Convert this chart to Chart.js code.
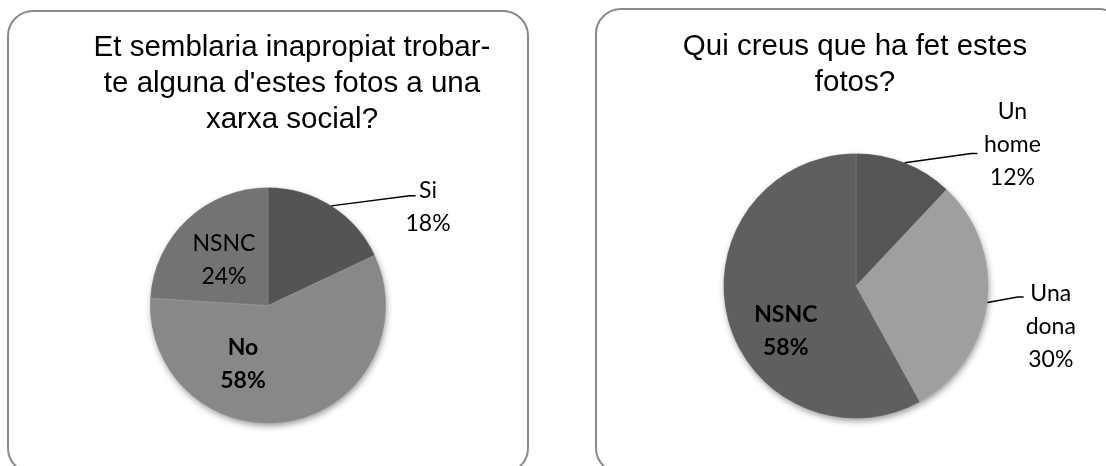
<!DOCTYPE html>
<html>
<head>
<meta charset="utf-8">
<script src="https://cdn.jsdelivr.net/npm/chart.js@4.4.0/dist/chart.umd.min.js"></script>
<style>
  body { margin: 0; background: #fff; width: 1106px; height: 466px; overflow: hidden; position: relative; }
  .panel { position: absolute; border: 2px solid #8a8a8a; border-radius: 26px; box-sizing: border-box; }
  canvas { position: absolute; top: 0; }
</style>
</head>
<body>
<div class="panel" style="left:7px;top:10px;width:522px;height:464px"></div>
<div class="panel" style="left:595px;top:8px;width:530px;height:466px"></div>
<canvas id="chartA" width="553" height="466" style="left:0"></canvas>
<canvas id="chartB" width="553" height="466" style="left:553px"></canvas>
<script>
const titleA = ['Et semblaria inapropiat trobar-', "te alguna d'estes fotos a una", 'xarxa social?'];
const categoriesA = ['Si', 'No', 'NSNC'];
const valuesA = [18, 58, 24];

const titleB = ['Qui creus que ha fet estes', 'fotos?'];
const categoriesB = ['Un home', 'Una dona', 'NSNC'];
const valuesB = [12, 30, 58];

// shadow under the pie + title + slice labels with leader lines
const pieText = {
  id: 'pieText',
  beforeDatasetsDraw(chart) {
    const arc = chart.getDatasetMeta(0).data[0];
    if (!arc) return;
    const ctx = chart.ctx;
    ctx.save();
    ctx.shadowColor = 'rgba(0,0,0,0.45)';
    ctx.shadowBlur = 7;
    ctx.shadowOffsetX = 1;
    ctx.shadowOffsetY = 3;
    ctx.fillStyle = '#777';
    ctx.beginPath();
    ctx.arc(arc.x, arc.y, arc.outerRadius - 1, 0, Math.PI * 2);
    ctx.fill();
    ctx.restore();
  },
  afterDraw(chart, args, opts) {
    const ctx = chart.ctx;
    ctx.save();
    ctx.fillStyle = '#000';
    ctx.textAlign = 'center';
    ctx.textBaseline = 'alphabetic';
    ctx.font = opts.titleFont;
    opts.title.forEach((line, i) => {
      ctx.fillText(line, opts.titleX, opts.titleY + i * opts.titleLineHeight);
    });

    const meta = chart.getDatasetMeta(0);
    const values = chart.data.datasets[0].data;
    ctx.textBaseline = 'middle';
    meta.data.forEach((arc, i) => {
      const p = opts.labels[i];
      const R = arc.outerRadius;
      const lines = chart.data.labels[i].split(' ').concat(values[i] + '%');
      const cx = arc.x + p.fx * R;
      const cy = arc.y + p.fy * R;
      if (p.leader) {
        const mid = (arc.startAngle + arc.endAngle) / 2;
        ctx.strokeStyle = '#000';
        ctx.lineWidth = 1.5;
        ctx.beginPath();
        ctx.moveTo(arc.x + Math.cos(mid) * R, arc.y + Math.sin(mid) * R);
        ctx.lineTo(arc.x + p.leader[0] * R, arc.y + p.leader[1] * R);
        ctx.lineTo(arc.x + p.leader[0] * R + 6, arc.y + p.leader[1] * R);
        ctx.stroke();
      }
      ctx.font = (p.bold ? 'bold ' : '') + '23px Lato';
      lines.forEach((t, j) => {
        ctx.fillText(t, cx, cy + (j - (lines.length - 1) / 2) * 33);
      });
    });
    ctx.restore();
  }
};

new Chart(document.getElementById('chartA'), {
  type: 'pie',
  data: {
    labels: categoriesA,
    datasets: [{
      data: valuesA,
      backgroundColor: ['#545454', '#888888', '#737373'],
      borderColor: 'rgba(255,255,255,0.12)',
      borderWidth: 1
    }]
  },
  options: {
    responsive: false,
    animation: false,
    layout: { padding: { top: 187, bottom: 42, left: 0, right: 17 } },
    plugins: {
      legend: { display: false },
      tooltip: { enabled: false },
      pieText: {
        title: titleA,
        titleFont: '29.5px "Liberation Sans"',
        titleX: 292,
        titleY: 56,
        titleLineHeight: 36,
        labels: [
          { fx: 1.356, fy: -0.835, leader: [1.2, -0.93] },
          { fx: -0.212, fy: 0.496, bold: true },
          { fx: -0.373, fy: -0.381 }
        ]
      }
    }
  },
  plugins: [pieText]
});

new Chart(document.getElementById('chartB'), {
  type: 'pie',
  data: {
    labels: categoriesB,
    datasets: [{
      data: valuesB,
      backgroundColor: ['#555555', '#9f9f9f', '#5f5f5f'],
      borderColor: 'rgba(255,255,255,0.12)',
      borderWidth: 1
    }]
  },
  options: {
    responsive: false,
    animation: false,
    layout: { padding: { top: 153, bottom: 47, left: 53, right: 0 } },
    plugins: {
      legend: { display: false },
      tooltip: { enabled: false },
      pieText: {
        title: titleB,
        titleFont: '29.5px "Liberation Sans"',
        titleX: 302,
        titleY: 55,
        titleLineHeight: 36,
        labels: [
          { fx: 1.18, fy: -1.068, leader: [0.87, -1.0] },
          { fx: 1.47, fy: 0.303, leader: [1.22, 0.083] },
          { fx: -0.53, fy: 0.34, bold: true }
        ]
      }
    }
  },
  plugins: [pieText]
});
</script>
</body>
</html>
